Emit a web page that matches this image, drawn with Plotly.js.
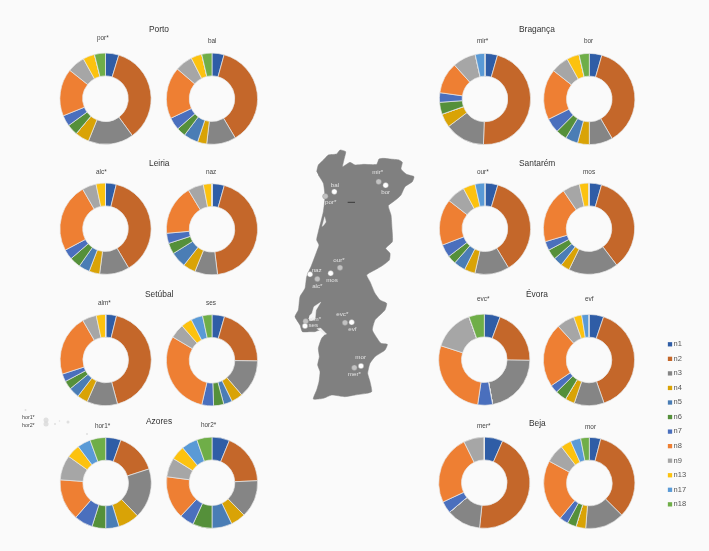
<!DOCTYPE html>
<html><head><meta charset="utf-8">
<script src="https://cdn.plot.ly/plotly-3.0.0.min.js"></script>
<style>html,body{margin:0;padding:0;background:#fafafa}#chart{filter:blur(0.3px)}</style></head>
<body><div id="chart" style="width:709px;height:551px"></div>
<script>
const categories=['n1','n2','n3','n4','n5','n6','n7','n8','n9','n13','n17','n18'];
const colors=['#2f5da6','#c4672a','#858585','#d9a306','#4a7db5','#55903a','#4a6fbd','#ee7f33','#a6a6a6','#fcc20f','#5a9ad6','#6fae48'];
// slice sizes (angular share of each ring, in degrees)
const por=[17,127,58,18,0,14,14,60.5,22.5,15,0,14];
const bal=[15.4,134,37.4,11.7,18.6,11.6,16,66,22.4,14,0,13];
const alc=[13.7,135.8,38,13.5,14,14,13,88,18,12,0,0];
const naz=[15.7,157.3,29,16,20,14,13,64,20,11,0,0];
const alm=[13.8,151.2,39,13.5,13.5,11,10,78,18,12,0,0];
const ses=[16,74.8,48.6,14.6,11,13,15,107.7,18.3,14,15,12];
const hor1=[19.5,52.5,64,27,17,17.5,23.5,53,31.7,17.3,17,20];
const hor2=[22.4,65.1,47.8,19.1,25.6,24.7,18.3,54.5,24.5,18,20.6,19.4];
const mir=[16,166,51,17.5,0,15.3,12.2,40,29.6,0,12.4,0];
const bor=[16,134,30,15,16,14,18.6,64.8,22.6,16,0,13];
const our=[16.4,132.6,43.8,13.8,14.9,11.1,16.4,59,23.8,15.6,12.6,0];
const mos=[16,126.7,63.3,11.5,11.5,13,11.5,72.5,21.7,12.3,0,0];
const evc=[20.3,70.5,78.7,0,0,0,18.9,99.4,52.6,0,0,19.6];
const evf=[18.7,142.1,38.1,12.1,0,14.3,10.5,81.9,22.8,10.2,9.3,0];
const mer=[23.7,162.3,43.7,0,0,0,15.3,88.6,26.4,0,0,0];
const mor=[14.6,120.1,49.9,12.4,0,11.6,11,79,23.8,13.6,13,11];

const W=709,H=551,R=45.6;
const rings=[
 ['por*',por,105.5,98.7,103,38],['bal',bal,212,98.7,212,40],
 ['alc*',alc,105.5,228.7,101,171],['naz',naz,212,229.3,211,171],
 ['alm*',alm,105.7,360,104,302],['ses',ses,212,360.3,211,302],
 ['hor1*',hor1,105.7,483,103,425],['hor2*',hor2,212,482.7,209,424],
 ['mir*',mir,485,99,483,40],['bor',bor,589.3,99,589,40],
 ['our*',our,485,228.7,483,171],['mos',mos,589,228.7,589,171],
 ['evc*',evc,484.3,359.7,483,298],['evf',evf,589,360,589,298],
 ['mer*',mer,484.3,482.7,484,425],['mor',mor,589.3,483,591,426]];
const regionNames=['Porto','Leiria','Setúbal','Azores','Bragança','Santarém','Évora','Beja'];
const regionX=[159,159,159,158.7,537,537,537,537];
const regionY=[29,163,294,421,29,163,294,423];

// Portugal outline, map units
const mapX=[80,85,100,115,140,150,167,163,158,180,195,220,260,267,280,300,327,337,333,350,372,367,345,333,323,310,295,303,306,307,287,300,298,280,260,230,240,255,270,290,285,255,247,255,273,292,285,255,240,233,240,245,230,195,165,125,100,70,80,87,90,83,88,85,95,105,90,75,60,37,30,15,25,30,45,50,65,80,87,80,85,100,105,100,85];
const mapY=[95,75,60,45,42,30,35,55,80,67,75,73,73,57,55,57,60,67,87,103,110,125,140,165,175,185,197,225,265,305,325,340,360,375,387,405,425,460,480,490,510,540,570,585,610,613,630,650,670,700,725,755,760,765,770,765,775,777,750,725,695,675,650,625,595,583,570,575,575,575,555,530,510,470,445,410,375,335,315,300,275,215,170,130,105];
const tagusX=[58,66,72,92,78,75,62,56];
const tagusY=[528,520,500,487,510,538,542,536];
const sadoX=[80,92,110,104,92];
const sadoY=[566,564,582,584,574];
const aveiroX=[96,104,108,101];
const aveiroY=[260,230,246,256];
const siteNames=['mir*','bor','bal','por*','our*','mos','naz','alc*','alm*','ses','evc*','evf','mor','mer*'];
const siteX=[266,287,133,106,150,122,60,82,47,45,165,185,213,193];
const siteY=[125,136,155,169,383,400,403,417,544,558,548,547,678,683];
const siteColor=['#c2c2c2','#fff','#fff','#c2c2c2','#c2c2c2','#fff','#fff','#c2c2c2','#c2c2c2','#fff','#c2c2c2','#fff','#fff','#c2c2c2'];
const labelX=[263,287,135,122,147,126,80,82,75,70,157,187,212,193];
const labelY=[97,157,136,187,360,420,392,439,537,555,524,569,653,704];

const azoresX=[46,46,25.5,55,59.5,68,87];
const azoresY=[420,424,410,424,421,422,434];
const azoresS=[5,5,2,2,1.5,3,2];

const traces=[];
rings.forEach(r=>{
 traces.push({type:'pie',labels:categories,values:r[1],hole:0.5,sort:false,direction:'clockwise',rotation:0,
  textinfo:'none',hoverinfo:'label+percent',showlegend:false,
  marker:{colors:colors,line:{color:'#e8e8e8',width:0.7}},
  domain:{x:[(r[2]-R)/W,(r[2]+R)/W],y:[1-(r[3]+R)/H,1-(r[3]-R)/H]}});
});
const m2={xaxis:'x2',yaxis:'y2',hoverinfo:'skip',showlegend:false};
traces.push({...m2,type:'scatter',mode:'lines',x:mapX,y:mapY,fill:'toself',fillcolor:'#808080',line:{color:'#808080',width:0.5,shape:'spline',smoothing:0.5}});
traces.push({...m2,type:'scatter',mode:'lines',x:tagusX,y:tagusY,fill:'toself',fillcolor:'#f6f6f6',line:{color:'#f6f6f6',width:0.5}});
traces.push({...m2,type:'scatter',mode:'lines',x:sadoX,y:sadoY,fill:'toself',fillcolor:'#f0f0f0',line:{color:'#f0f0f0',width:0.3}});
traces.push({...m2,type:'scatter',mode:'lines',x:aveiroX,y:aveiroY,fill:'toself',fillcolor:'#f0f0f0',line:{color:'#f0f0f0',width:0.3}});
traces.push({...m2,type:'scatter',mode:'lines',x:[173,195],y:[187,187],line:{color:'#3a3a3a',width:1}});
traces.push({...m2,type:'scatter',mode:'markers',x:siteX,y:siteY,marker:{color:siteColor,size:5.5,line:{width:0.4,color:'#8c8c8c'}}});
traces.push({...m2,type:'scatter',mode:'text',x:labelX,y:labelY,text:siteNames,textposition:'middle center',textfont:{family:'Liberation Sans',size:6.2,color:'#e2e2e2'}});
// Azores inset
traces.push({xaxis:'x',yaxis:'y',hoverinfo:'skip',showlegend:false,type:'scatter',mode:'markers',x:azoresX,y:azoresY,marker:{color:'#d4d4d4',size:azoresS,line:{width:0}}});
// legend
const legX=categories.map(()=>670), legTX=categories.map(()=>673.6);
const legY=categories.map((c,i)=>344.3+i*14.55);
traces.push({hoverinfo:'skip',showlegend:false,type:'scatter',mode:'markers',x:legX,y:legY,marker:{symbol:'square',size:4.3,color:colors,line:{width:0}}});
traces.push({hoverinfo:'skip',showlegend:false,type:'scatter',mode:'text',x:legTX,y:legY,text:categories,textposition:'middle right',textfont:{family:'Liberation Sans',size:7.5,color:'#555'}});

const ann=[];
const note=(t,x,y,s,c)=>ann.push({text:t,x:x,y:y,xref:'x',yref:'y',xanchor:'center',yanchor:'middle',showarrow:false,font:{family:'Liberation Sans',size:s,color:c},borderpad:0});
regionNames.forEach((n,i)=>note(n,regionX[i],regionY[i],8.4,'#333'));
rings.forEach(r=>note(r[0],r[4],r[5],6.4,'#444'));
note('hor1*',28,417,5.3,'#444');note('hor2*',28,425,5.3,'#444');

Plotly.newPlot('chart',traces,{
 width:W,height:H,margin:{l:0,r:0,t:0,b:0},
 paper_bgcolor:'#fafafa',plot_bgcolor:'rgba(0,0,0,0)',showlegend:false,annotations:ann,
 xaxis:{range:[0,W],visible:false,fixedrange:true},
 yaxis:{range:[H,0],visible:false,fixedrange:true},
 xaxis2:{range:[-870,1257],visible:false,overlaying:'x',anchor:'y2',fixedrange:true},
 yaxis2:{range:[1233,-420],visible:false,overlaying:'y',anchor:'x2',fixedrange:true}
},{displayModeBar:false,staticPlot:true});
</script></body></html>
